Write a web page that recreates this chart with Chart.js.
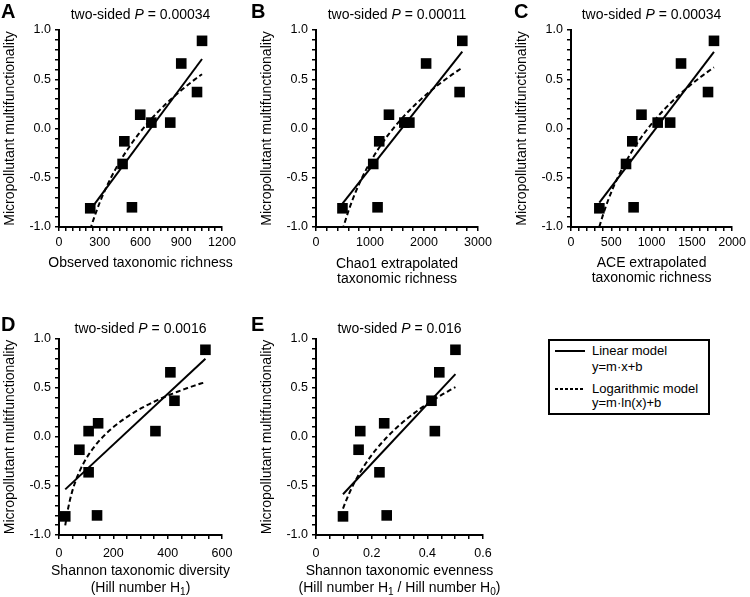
<!DOCTYPE html>
<html>
<head>
<meta charset="utf-8">
<script src="https://cdn.jsdelivr.net/npm/chart.js@4.4.1/dist/chart.umd.min.js"></script>
<style>
  body { margin: 0; background: #fff; width: 750px; height: 597px; position: relative; overflow: hidden;
         font-family: "Liberation Sans", Arial, sans-serif; }
  canvas { position: absolute; }
  #legend { position: absolute; left: 548px; top: 339px; width: 162px; height: 76px; box-sizing: border-box;
            border: 2px solid #000; font-size: 13px; color: #000; }
  #legend span { position: absolute; white-space: nowrap; line-height: 14px; }
  .solid { position: absolute; left: 5px; width: 30px; height: 2px; background: #000; }
  .dots { position: absolute; left: 5px; width: 30px; height: 2px;
          background: repeating-linear-gradient(90deg, #000 0 3px, transparent 3px 5px); }
</style>
</head>
<body>
<canvas id="pA" width="250" height="290" style="left:0;top:0"></canvas>
<canvas id="pB" width="250" height="290" style="left:250px;top:0"></canvas>
<canvas id="pC" width="250" height="290" style="left:500px;top:0"></canvas>
<canvas id="pD" width="250" height="307" style="left:0;top:290px"></canvas>
<canvas id="pE" width="250" height="307" style="left:250px;top:290px"></canvas>

<div id="legend">
  <div class="solid" style="top:9px"></div>
  <span style="left:42px;top:3px">Linear model</span>
  <span style="left:42px;top:19px">y=m·x+b</span>
  <div class="dots" style="top:47px"></div>
  <span style="left:42px;top:41px">Logarithmic model</span>
  <span style="left:42px;top:55px">y=m·ln(x)+b</span>
</div>

<script>
// data (same 10 samples in every panel)
const yMultifunctionality = [-0.81, -0.80, -0.36, -0.13, 0.14, 0.06, 0.06, 0.37, 0.66, 0.89];
const xObserved = [230, 537, 468, 481, 598, 680, 819, 1016, 900, 1053];
const xChao1 = [490, 1140, 1060, 1171, 1351, 1636, 1729, 2659, 2039, 2709];
const xACE = [352, 777, 683, 761, 875, 1076, 1231, 1701, 1366, 1775];
const xShannon = [23, 140, 109, 75, 144, 109, 355, 425, 410, 539];
const xEvenness = [0.097, 0.254, 0.228, 0.153, 0.245, 0.159, 0.427, 0.415, 0.443, 0.501];

const panelLetters = ['A', 'B', 'C', 'D', 'E'];
const pValues = ['0.00034', '0.00011', '0.00034', '0.0016', '0.016'];
const xAxisMax = [1200, 3000, 2000, 600, 0.6];
const xMajorStep = [300, 1000, 500, 200, 0.2];
const xMinorStep = [50, 200, 100, 50, 0.05];
const xTitles = [
  ['Observed taxonomic richness'],
  ['Chao1 extrapolated', 'taxonomic richness'],
  ['ACE extrapolated', 'taxonomic richness'],
  ['Shannon taxonomic diversity', '(Hill number H_{1})'],
  ['Shannon taxonomic evenness', '(Hill number H_{1} / Hill number H_{0})']
];
const yTitle = 'Micropollutant multifunctionality';

const xSeries = [xObserved, xChao1, xACE, xShannon, xEvenness];

// panel geometry (canvas coords)
const boxes = [
  { id: 'pA', w: 250, h: 290, l: 59, r: 222, t: 30, b: 227, tickPad: 4, titleY: 15, letterX: 1, letterY: 12, xt: [263, 279] },
  { id: 'pB', w: 250, h: 290, l: 66, r: 228, t: 30, b: 227, tickPad: 4, titleY: 15, letterX: 1, letterY: 12, xt: [264, 279] },
  { id: 'pC', w: 250, h: 290, l: 71, r: 234, t: 30, b: 227, tickPad: 4, titleY: 15, letterX: 14, letterY: 12, xt: [263, 278] },
  { id: 'pD', w: 250, h: 307, l: 59, r: 222, t: 49, b: 245, tickPad: 7, titleY: 39, letterX: 1, letterY: 35, xt: [281, 298] },
  { id: 'pE', w: 250, h: 307, l: 66, r: 483 - 250, t: 49, b: 245, tickPad: 7, titleY: 39, letterX: 1, letterY: 35, xt: [281, 298] }
];

const FONT = '"Liberation Sans", Arial, sans-serif';
Chart.defaults.font.family = FONT;
Chart.defaults.color = '#000';

function linFit(xs, ys) {
  const n = xs.length;
  const mx = xs.reduce((a, v) => a + v, 0) / n;
  const my = ys.reduce((a, v) => a + v, 0) / n;
  let sxy = 0, sxx = 0;
  for (let i = 0; i < n; i++) { sxy += (xs[i] - mx) * (ys[i] - my); sxx += (xs[i] - mx) ** 2; }
  const m = sxy / sxx;
  return { m: m, b: my - m * mx };
}

// tiny rich text: *italic* and _{sub}
function parseRich(s) {
  return s.split(/(\*[^*]+\*|_\{[^}]+\})/).filter(p => p).map(p => {
    if (p[0] === '*') return { t: p.slice(1, -1), it: true };
    if (p[0] === '_') return { t: p.slice(2, -1), sub: true };
    return { t: p };
  });
}
function segFont(seg, size) {
  return (seg.it ? 'italic ' : '') + (seg.sub ? size * 0.72 : size) + 'px ' + FONT;
}
function drawRich(ctx, s, cx, cy, size) {
  const segs = parseRich(s);
  let w = 0;
  segs.forEach(sg => { ctx.font = segFont(sg, size); w += ctx.measureText(sg.t).width; });
  let x = cx - w / 2;
  ctx.textAlign = 'left';
  ctx.textBaseline = 'middle';
  segs.forEach(sg => {
    ctx.font = segFont(sg, size);
    ctx.fillText(sg.t, x, cy + (sg.sub ? size * 0.3 : 0));
    x += ctx.measureText(sg.t).width;
  });
}

function makePanel(i) {
  const B = boxes[i];
  const xs = xSeries[i];
  const points = xs.map((x, k) => ({ x: x, y: yMultifunctionality[k] }));
  const xmin = Math.min(...xs), xmax = Math.max(...xs);

  const lin = linFit(xs, yMultifunctionality);
  const linPts = [xmin, xmax].map(x => ({ x: x, y: lin.m * x + lin.b }));
  const lg = linFit(xs.map(Math.log), yMultifunctionality);
  const logPts = [];
  for (let k = 0; k <= 60; k++) {
    const x = xmin + (xmax - xmin) * k / 60;
    logPts.push({ x: x, y: lg.m * Math.log(x) + lg.b });
  }

  const textPlugin = {
    id: 'texts',
    afterDraw(chart) {
      const ctx = chart.ctx;
      const a = chart.chartArea;
      const cx = (a.left + a.right) / 2;
      ctx.save();
      ctx.fillStyle = '#000';
      // panel letter
      ctx.font = 'bold 20px ' + FONT;
      ctx.textAlign = 'left';
      ctx.textBaseline = 'middle';
      ctx.fillText(panelLetters[i], B.letterX, B.letterY);
      // p-value title
      drawRich(ctx, 'two-sided *P* = ' + pValues[i], cx, B.titleY, 14);
      // x title
      xTitles[i].forEach((line, k) => drawRich(ctx, line, cx, B.xt[k], 14));
      // y title
      ctx.translate(a.left - 49, (a.top + a.bottom) / 2);
      ctx.rotate(-Math.PI / 2);
      drawRich(ctx, yTitle, 0, 0, 14);
      ctx.restore();
    }
  };

  const major = xMajorStep[i];
  new Chart(document.getElementById(B.id), {
    type: 'scatter',
    data: {
      datasets: [
        { data: points, pointStyle: 'rect', pointRadius: 7.5, pointHoverRadius: 7.5,
          backgroundColor: '#000', borderColor: '#000', borderWidth: 0, order: 0 },
        { type: 'line', data: linPts, borderColor: '#000', borderWidth: 2, pointRadius: 0, fill: false, order: 1 },
        { type: 'line', data: logPts, borderColor: '#000', borderWidth: 2, borderDash: [5, 3],
          pointRadius: 0, fill: false, tension: 0, order: 1 }
      ]
    },
    options: {
      responsive: false,
      animation: false,
      devicePixelRatio: 1,
      layout: { padding: { top: B.t, right: B.w - B.r, left: 0, bottom: 0 } },
      plugins: { legend: { display: false }, tooltip: { enabled: false } },
      scales: {
        x: {
          type: 'linear', min: 0, max: xAxisMax[i],
          afterFit: s => { s.height = B.h - B.b; },
          border: { color: '#000', width: 2 },
          grid: { drawOnChartArea: false, color: '#000', lineWidth: 1.5, tickLength: 4 },
          ticks: {
            stepSize: xMinorStep[i], autoSkip: false, maxRotation: 0, padding: B.tickPad,
            font: { size: 12.5 },
            callback: v => {
              const r = v / major;
              return Math.abs(r - Math.round(r)) < 1e-6 ? String(+(Math.round(r) * major).toFixed(2)) : '';
            }
          }
        },
        y: {
          min: -1, max: 1,
          afterFit: s => { s.width = B.l; },
          border: { color: '#000', width: 2 },
          grid: { drawOnChartArea: false, color: '#000', lineWidth: 1.5, tickLength: 4 },
          ticks: {
            stepSize: 0.1, autoSkip: false, padding: 4, font: { size: 12.5 },
            callback: v => {
              const r = Math.round(v * 10);
              return r % 5 === 0 ? (r / 10).toFixed(1) : '';
            }
          }
        }
      }
    },
    plugins: [textPlugin]
  });
}

for (let i = 0; i < 5; i++) makePanel(i);
</script>
</body>
</html>
